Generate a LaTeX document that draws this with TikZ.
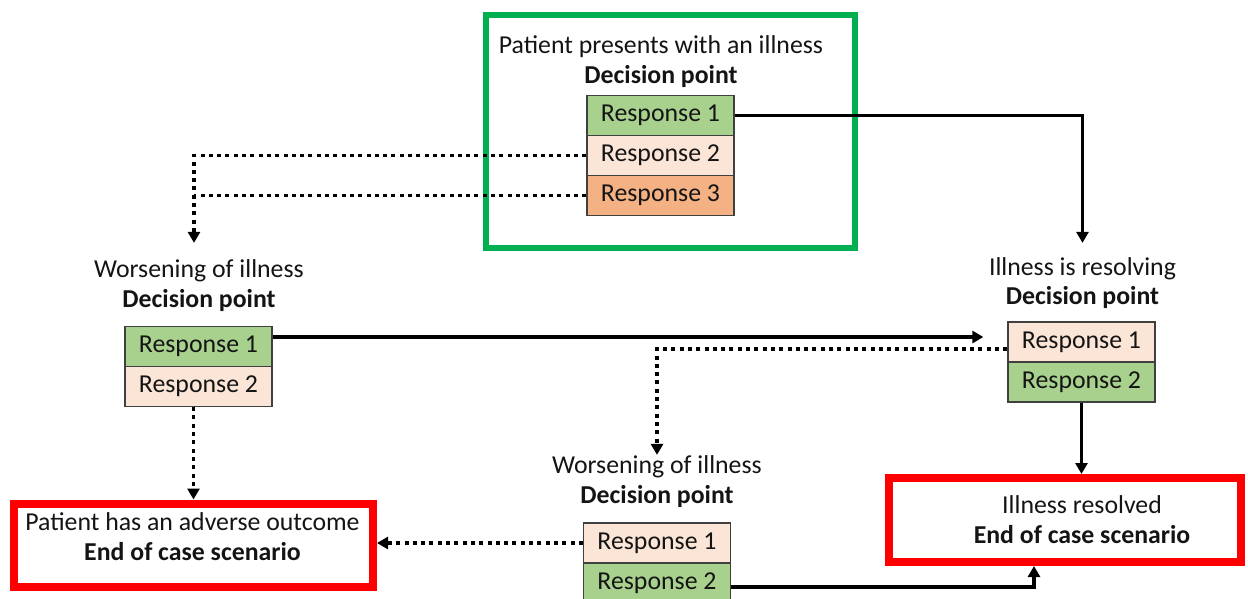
\documentclass[tikz,border=0pt]{standalone}
\usepackage{fontspec}
\setmainfont{Carlito}
\usetikzlibrary{arrows.meta,calc}
\definecolor{rgreen}{HTML}{A9D18E}
\definecolor{rpeach}{HTML}{FBE5D6}
\definecolor{rorange}{HTML}{F4B183}
\definecolor{fgreen}{HTML}{00B050}
\definecolor{fred}{HTML}{FF0000}
\definecolor{ink}{HTML}{141414}
\begin{document}
\begin{tikzpicture}[x=1pt,y=-1pt,
  font=\fontsize{25.8}{30}\selectfont,
  resp/.style={draw=black!75, line width=1.3pt, minimum width=147pt, minimum height=40pt, inner sep=0pt, text=ink},
  lbl/.style={inner sep=0pt, anchor=base, text=ink},
  bl/.style={lbl, font=\fontsize{25.8}{30}\selectfont\bfseries},
  startframe/.style={draw=fgreen, line width=6pt, inner sep=0pt},
  endframe/.style={draw=fred, line width=8pt, inner sep=0pt},
  sol/.style={line width=3.4pt, draw=black, -{Triangle[length=11pt,width=12pt]}},
  dot/.style={line width=3.4pt, draw=black, dash pattern=on 4pt off 4.3pt, -{Triangle[length=11pt,width=12pt]}},
  dotnt/.style={line width=3.4pt, draw=black, dash pattern=on 4pt off 4.3pt}
]
\useasboundingbox (0,0) rectangle (1248,598);
\clip (0,0) rectangle (1248,598);

% start frame
\node[startframe, minimum width=369pt, minimum height=233pt] (frame) at (670.5,131.5) {};
\node[lbl] (tT) at (661,53) {Patient presents with an illness};
\node[bl] (tD) at (661,83) {Decision point};
\node[resp, fill=rgreen] (tR1) at (660.5,115.5) {Response 1};
\node[resp, fill=rpeach] (tR2) at (660.5,155.5) {Response 2};
\node[resp, fill=rorange] (tR3) at (660.5,195.5) {Response 3};

% left worsening
\node[lbl] (lT) at (199,277) {Worsening of illness};
\node[bl] (lD) at (199,307) {Decision point};
\node[resp, fill=rgreen] (lR1) at (198.5,346.5) {Response 1};
\node[resp, fill=rpeach] (lR2) at (198.5,386.5) {Response 2};

% right resolving
\node[lbl] (rT) at (1082.5,275) {Illness is resolving};
\node[bl] (rD) at (1082.5,304) {Decision point};
\node[resp, fill=rpeach] (rR1) at (1081.5,342) {Response 1};
\node[resp, fill=rgreen] (rR2) at (1081.5,382) {Response 2};

% bottom worsening
\node[lbl] (bT) at (657,473) {Worsening of illness};
\node[bl] (bD) at (657,503) {Decision point};
\node[resp, fill=rpeach] (bR1) at (657,543) {Response 1};
\node[resp, fill=rgreen] (bR2) at (657,583) {Response 2};

% end boxes
\node[endframe, minimum width=359pt, minimum height=83pt] (adv) at (193.5,545) {};
\node[lbl] (advT) at (192.5,530) {Patient has an adverse outcome};
\node[bl] (advD) at (192.5,560) {End of case scenario};

\node[endframe, minimum width=352pt, minimum height=84pt] (res) at (1065,520) {};
\node[lbl] (resT) at (1082,513) {Illness resolved};
\node[bl] (resD) at (1082,543) {End of case scenario};

% connectors
\draw[sol, shorten >=14pt] (tR1.east) -| (rT.north);
\coordinate (lIn) at ([xshift=-5pt]lT.north);
\draw[dot, shorten >=16pt] (tR2.west) -| (lIn);
\draw[dotnt] (tR3.west) -- (tR3.west -| lIn);

\coordinate (s3) at ($(lR1.east)+(0,-9.5)$);
\draw[sol, shorten >=24pt] (s3) -- (s3 -| rR1.west);

\coordinate (s4) at ($(rR1.west)+(0,7)$);
\draw[dot] (s4) -| (bT.north);

\draw[dot] (adv.north |- lR2.south) -- (adv.north);
\draw[sol] (rR2.south) -- (rR2.south |- res.north);
\draw[dot] (bR1.west) -- (bR1.west -| adv.east);

\coordinate (s8) at ($(bR2.east)+(0,4)$);
\coordinate (r8) at ($(res.south)+(-31,0)$);
\draw[sol] (s8) -| (r8);
\end{tikzpicture}
\end{document}
